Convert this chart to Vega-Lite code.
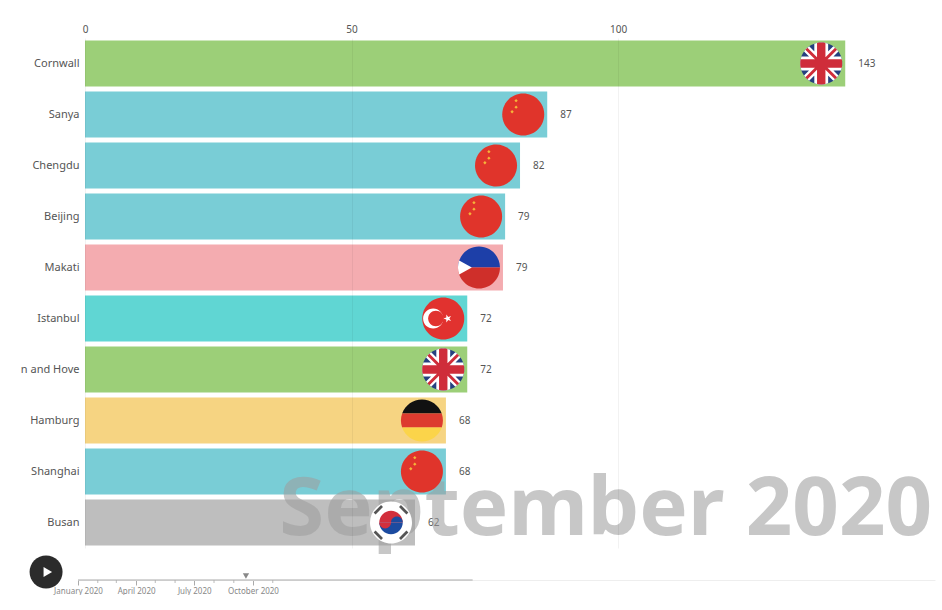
{
"$schema":"https://vega.github.io/schema/vega-lite/v6.json",
"padding":{"left":20,"top":24,"right":0,"bottom":0},
"background":"white",
"spacing":2,
"bounds":"flush",
"config":{"view":{"stroke":null},"font":"Noto Sans"},
"datasets":{
"cities":[
{"city":"Cornwall","value":142.6,"label":"143","country":"UK"},
{"city":"Sanya","value":86.7,"label":"87","country":"China"},
{"city":"Chengdu","value":81.6,"label":"82","country":"China"},
{"city":"Beijing","value":78.8,"label":"79","country":"China"},
{"city":"Makati","value":78.4,"label":"79","country":"Philippines"},
{"city":"Istanbul","value":71.7,"label":"72","country":"Turkey"},
{"city":"n and Hove","value":71.7,"label":"72","country":"UK"},
{"city":"Hamburg","value":67.7,"label":"68","country":"Germany"},
{"city":"Shanghai","value":67.7,"label":"68","country":"China"},
{"city":"Busan","value":61.9,"label":"62","country":"South Korea"}
],
"months":[
{"month":"2020-02-01T00:00:00"},{"month":"2020-03-01T00:00:00"},{"month":"2020-05-01T00:00:00"},{"month":"2020-06-01T00:00:00"},{"month":"2020-08-01T00:00:00"},{"month":"2020-09-01T00:00:00"},{"month":"2020-11-01T00:00:00"}
],
"period":[{"name":"September 2020","value":158.9,"city":"Busan"}],
"range":[{"start":"2020-01-01T00:00:00","end":"2021-09-10T00:00:00"}],
"current":[{"date":"2020-09-20T00:00:00"}],
"play":[{"date":"2019-11-12T00:00:00"}]
},
"vconcat":[
{
"width":853,"height":510,
"data":{"name":"cities"},
"encoding":{
"x":{"field":"value","type":"quantitative","scale":{"domain":[0,160],"nice":false},"axis":{"orient":"top","values":[0,50,100],"title":null,"grid":true,"gridColor":"#000","gridOpacity":0.05,"zindex":1,"domain":false,"ticks":false,"labelColor":"#555","labelFontSize":10,"labelPadding":4,"labelFlush":false,"labelFont":"Noto Sans"}},
"y":{"field":"city","type":"nominal","sort":null,"scale":{"domain":["Cornwall","Sanya","Chengdu","Beijing","Makati","Istanbul","n and Hove","Hamburg","Shanghai","Busan"],"paddingInner":0.098,"paddingOuter":0.049},"axis":{"title":null,"domain":false,"ticks":false,"labelColor":"#555","labelFontSize":11,"labelPadding":6,"labelLimit":200}}
},
"layer":[
{"mark":{"type":"bar"},"encoding":{"color":{"field":"country","type":"nominal","legend":null,"scale":{"domain":["UK","China","Philippines","Turkey","Germany","South Korea"],"range":["#9ccf78","#79cdd6","#f4acb0","#60d6d3","#f6d482","#bebebe"]}}}},
{"mark":{"type":"text","align":"left","dx":13,"fontSize":10,"color":"#555"},"encoding":{"text":{"field":"label"}}},
{"data":{"name":"period"},"mark":{"type":"text","align":"right","baseline":"alphabetic","dy":12,"fontSize":81.5,"fontWeight":"bold","font":"Noto Sans","color":"#9e9e9e","opacity":0.57},"encoding":{"text":{"field":"name"}}},
{"transform":[{"filter":"datum.country==='China'"}],"mark":{"type":"point","filled":true,"opacity":1,"size":1764,"xOffset":-24,"strokeWidth":0,"color":"#e0342b","shape":"M1,0 A1,1 0 1,1 -1,0 A1,1 0 1,1 1,0 Z"}},
{"transform":[{"filter":"datum.country==='China'"}],"mark":{"type":"point","filled":true,"opacity":1,"size":1764,"xOffset":-24,"strokeWidth":0,"color":"#f5b53a","shape":"M-.34,-.74 L-.26,-.66 L-.34,-.58 L-.42,-.66 Z M-.34,-.43 L-.26,-.35 L-.34,-.27 L-.42,-.35 Z M-.53,-.21 L-.45,-.13 L-.53,-.05 L-.61,-.13 Z"}},
{"transform":[{"filter":"datum.country==='UK'"}],"mark":{"type":"point","filled":true,"opacity":1,"size":1764,"xOffset":-24,"strokeWidth":0,"color":"#25407f","shape":"M1,0 A1,1 0 1,1 -1,0 A1,1 0 1,1 1,0 Z"}},
{"transform":[{"filter":"datum.country==='UK'"}],"mark":{"type":"point","filled":true,"opacity":1,"size":1764,"xOffset":-24,"strokeWidth":0,"color":"#ffffff","shape":"M.819,.574 A1,1 0 0,1 .574,.819 L-.819,-.574 A1,1 0 0,1 -.574,-.819 Z M-.574,.819 A1,1 0 0,1 -.819,.574 L.574,-.819 A1,1 0 0,1 .819,-.574 Z M-.944,-.33 L.944,-.33 A1,1 0 0,1 .944,.33 L-.944,.33 A1,1 0 0,1 -.944,-.33 Z M-.33,-.944 A1,1 0 0,1 .33,-.944 L.33,.944 A1,1 0 0,1 -.33,.944 Z"}},
{"transform":[{"filter":"datum.country==='UK'"}],"mark":{"type":"point","filled":true,"opacity":1,"size":1764,"xOffset":-24,"strokeWidth":0,"color":"#cf2d3a","shape":"M.755,.656 A1,1 0 0,1 .656,.755 L-.755,-.656 A1,1 0 0,1 -.656,-.755 Z M-.656,.755 A1,1 0 0,1 -.755,.656 L.656,-.755 A1,1 0 0,1 .755,-.656 Z M-.98,-.2 L.98,-.2 A1,1 0 0,1 .98,.2 L-.98,.2 A1,1 0 0,1 -.98,-.2 Z M-.2,-.98 A1,1 0 0,1 .2,-.98 L.2,.98 A1,1 0 0,1 -.2,.98 Z"}},
{"transform":[{"filter":"datum.country==='Philippines'"}],"mark":{"type":"point","filled":true,"opacity":1,"size":1764,"xOffset":-24,"strokeWidth":0,"color":"#1d3fa8","shape":"M-1,0 A1,1 0 0,1 1,0 Z"}},
{"transform":[{"filter":"datum.country==='Philippines'"}],"mark":{"type":"point","filled":true,"opacity":1,"size":1764,"xOffset":-24,"strokeWidth":0,"color":"#cf2f2a","shape":"M1,0 A1,1 0 0,1 -1,0 Z"}},
{"transform":[{"filter":"datum.country==='Philippines'"}],"mark":{"type":"point","filled":true,"opacity":1,"size":1764,"xOffset":-24,"strokeWidth":0,"color":"#ffffff","shape":"M-.944,-.33 L-.34,0 L-.944,.33 A1,1 0 0,1 -.944,-.33 Z"}},
{"transform":[{"filter":"datum.country==='Turkey'"}],"mark":{"type":"point","filled":true,"opacity":1,"size":1764,"xOffset":-24,"strokeWidth":0,"color":"#e1322f","shape":"M1,0 A1,1 0 1,1 -1,0 A1,1 0 1,1 1,0 Z"}},
{"transform":[{"filter":"datum.country==='Turkey'"}],"mark":{"type":"point","filled":true,"opacity":1,"size":1764,"xOffset":-24,"strokeWidth":0,"color":"#ffffff","shape":"M0,0 A.48,.48 0 1,1 -.96,0 A.48,.48 0 1,1 0,0 Z M.01,0 L.145,-.047 L.148,-.19 L.235,-.076 L.372,-.118 L.29,0 L.372,.118 L.235,.076 L.148,.19 L.145,.047 Z"}},
{"transform":[{"filter":"datum.country==='Turkey'"}],"mark":{"type":"point","filled":true,"opacity":1,"size":1764,"xOffset":-24,"strokeWidth":0,"color":"#e1322f","shape":"M.02,0 A.37,.37 0 1,1 -.72,0 A.37,.37 0 1,1 .02,0 Z"}},
{"transform":[{"filter":"datum.country==='Germany'"}],"mark":{"type":"point","filled":true,"opacity":1,"size":1764,"xOffset":-24,"strokeWidth":0,"color":"#111111","shape":"M-.943,-.333 A1,1 0 0,1 .943,-.333 Z"}},
{"transform":[{"filter":"datum.country==='Germany'"}],"mark":{"type":"point","filled":true,"opacity":1,"size":1764,"xOffset":-24,"strokeWidth":0,"color":"#dd3b2f","shape":"M-.943,-.333 L.943,-.333 A1,1 0 0,1 .943,.333 L-.943,.333 A1,1 0 0,1 -.943,-.333 Z"}},
{"transform":[{"filter":"datum.country==='Germany'"}],"mark":{"type":"point","filled":true,"opacity":1,"size":1764,"xOffset":-24,"strokeWidth":0,"color":"#fbd44a","shape":"M.943,.333 A1,1 0 0,1 -.943,.333 Z"}},
{"transform":[{"filter":"datum.country==='South Korea'"}],"mark":{"type":"point","filled":true,"opacity":1,"size":1764,"xOffset":-24,"strokeWidth":0,"color":"#ffffff","shape":"M1,0 A1,1 0 1,1 -1,0 A1,1 0 1,1 1,0 Z"}},
{"transform":[{"filter":"datum.country==='South Korea'"}],"mark":{"type":"point","filled":true,"opacity":1,"size":1764,"xOffset":-24,"strokeWidth":0,"color":"#555555","shape":"M-.382,-.736 L-.474,-.828 L-.828,-.474 L-.736,-.382 Z M.382,-.736 L.474,-.828 L.828,-.474 L.736,-.382 Z M-.382,.736 L-.474,.828 L-.828,.474 L-.736,.382 Z M.382,.736 L.474,.828 L.828,.474 L.736,.382 Z"}},
{"transform":[{"filter":"datum.country==='South Korea'"}],"mark":{"type":"point","filled":true,"opacity":1,"size":1764,"xOffset":-24,"strokeWidth":0,"color":"#1c4ba0","shape":"M.56,0 A.56,.56 0 0,1 -.56,0 Z"}},
{"transform":[{"filter":"datum.country==='South Korea'"}],"mark":{"type":"point","filled":true,"opacity":1,"size":1764,"xOffset":-24,"strokeWidth":0,"color":"#d22f3c","shape":"M-.56,0 A.56,.56 0 0,1 .56,0 Z"}},
{"transform":[{"filter":"datum.country==='South Korea'"}],"mark":{"type":"point","filled":true,"opacity":1,"size":1764,"xOffset":-24,"strokeWidth":0,"color":"#d22f3c","shape":"M-.56,0 A.28,.28 0 0,0 0,0 Z"}},
{"transform":[{"filter":"datum.country==='South Korea'"}],"mark":{"type":"point","filled":true,"opacity":1,"size":1764,"xOffset":-24,"strokeWidth":0,"color":"#1c4ba0","shape":"M0,0 A.28,.28 0 0,1 .56,0 Z"}}
]
},
{
"width":853,"height":30,
"layer":[
{"data":{"name":"months"},"mark":{"type":"rule","color":"#bbb","strokeWidth":1},"encoding":{
"x":{"field":"month","type":"temporal","scale":{"type":"time","domain":[{"year":2020,"month":1,"date":1},{"year":2023,"month":9,"date":4}],"range":[-7,850]},"axis":{"orient":"bottom","title":null,"grid":false,"values":[{"year":2020,"month":1,"date":1},{"year":2020,"month":4,"date":1},{"year":2020,"month":7,"date":1},{"year":2020,"month":10,"date":1}],"format":"%B %Y","domainColor":"#eeeeee","tickColor":"#aaa","tickSize":5,"labelColor":"#888","labelFontSize":8,"labelPadding":2,"labelFlush":false,"labelOverlap":false}},
"y":{"datum":0,"type":"quantitative","scale":{"domain":[0,1],"range":[30,0]},"axis":null},
"y2":{"datum":-0.1}
}},
{"data":{"name":"range"},"mark":{"type":"rule","color":"#aaa","strokeWidth":1},"encoding":{"x":{"field":"start","type":"temporal"},"x2":{"field":"end"},"y":{"datum":0,"type":"quantitative"}}},
{"data":{"name":"current"},"mark":{"type":"point","shape":"triangle-down","filled":true,"opacity":1,"size":40,"color":"#888","yOffset":-4},"encoding":{"x":{"field":"date","type":"temporal"},"y":{"datum":0,"type":"quantitative"}}},
{"data":{"name":"play"},"mark":{"type":"point","shape":"circle","filled":true,"opacity":1,"size":1089,"color":"#2b2b2b","yOffset":-8},"encoding":{"x":{"field":"date","type":"temporal"},"y":{"datum":0,"type":"quantitative"}}},
{"data":{"name":"play"},"mark":{"type":"point","shape":"M-.7,-1 L1,0 L-.7,1 Z","filled":true,"opacity":1,"size":100,"strokeWidth":0,"color":"#ffffff","yOffset":-8,"xOffset":1},"encoding":{"x":{"field":"date","type":"temporal"},"y":{"datum":0,"type":"quantitative"}}}
]
}
]
}
